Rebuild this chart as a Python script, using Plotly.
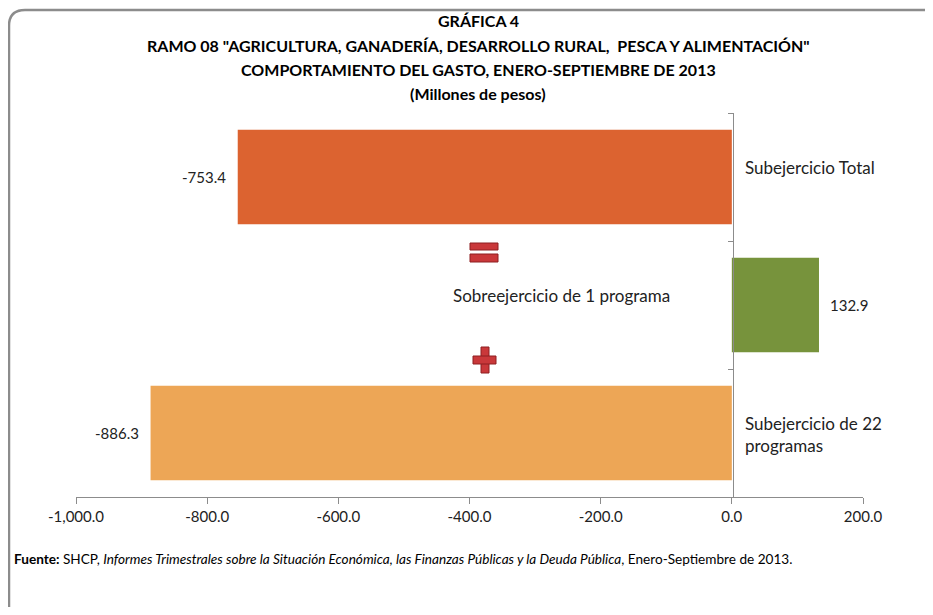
import plotly.graph_objects as go

# ---- data ----
categories = ["Subejercicio Total", "Sobreejercicio de 1 programa", "Subejercicio de 22 programas"]
category_labels = ["Subejercicio Total", "Sobreejercicio de 1 programa", "Subejercicio de 22<br>programas"]
values = [-753.4, 132.9, -886.3]
value_labels = ["-753.4", "132.9", "-886.3"]
bar_colors = ["#DC6330", "#77933C", "#EDA656"]
x_ticks = [-1000, -800, -600, -400, -200, 0, 200]
x_tick_labels = ["-1,000.0", "-800.0", "-600.0", "-400.0", "-200.0", "0.0", "200.0"]

title_lines = [
    "GRÁFICA 4",
    'RAMO 08 "AGRICULTURA, GANADERÍA, DESARROLLO RURAL,  PESCA Y ALIMENTACIÓN"',
    "COMPORTAMIENTO DEL GASTO, ENERO-SEPTIEMBRE DE 2013",
    "(Millones de pesos)",
]
footer = ("<b>Fuente:</b> SHCP, <i>Informes Trimestrales sobre la Situación Económica, "
          "las Finanzas Públicas y la Deuda Pública</i>, Enero-Septiembre de 2013.")

# page body has an 8px margin -> figure is drawn 8px in from the window edges
OFF = 8
W, H = 933 - 2 * OFF, 615 - 2 * OFF
L, R, T, B = 76 - OFF, 933 - 863 - OFF, 113 - OFF, 615 - 497 - OFF
PW, PH = W - L - R, H - T - B
FONT = "Lato, Carlito, Calibri, Roboto, sans-serif"


def px(x):  # reference window pixel -> paper
    return (x - OFF - L) / PW


def py(y):
    return (H - B - (y - OFF)) / PH


fig = go.Figure()
fig.add_trace(go.Bar(
    x=values, y=categories, orientation="h",
    marker=dict(color=bar_colors, line=dict(width=0)),
    width=0.74, hoverinfo="x+y",
))

annotations = []
# data labels
for v, c, t in zip(values, categories, value_labels):
    annotations.append(dict(x=v, y=c, xref="x", yref="y", text=t, showarrow=False,
                            xanchor="right" if v < 0 else "left", xshift=-10 if v < 0 else 9,
                            font=dict(size=15, color="#222", family=FONT)))
# category labels
annotations.append(dict(x=0, y=categories[0], xref="x", yref="y", text=category_labels[0],
                        showarrow=False, xanchor="left", xshift=11, yshift=10,
                        font=dict(size=17, color="#222", family=FONT)))
annotations.append(dict(x=0, y=categories[1], xref="x", yref="y", text=category_labels[1],
                        showarrow=False, xanchor="right", xshift=-60, yshift=10,
                        font=dict(size=17, color="#222", family=FONT)))
annotations.append(dict(x=0, y=categories[2], xref="x", yref="y", text=category_labels[2],
                        showarrow=False, xanchor="left", xshift=11, yshift=-1, align="left",
                        font=dict(size=17, color="#222", family=FONT)))
# title lines
for line, ypix in zip(title_lines, [20, 45, 70, 94]):
    annotations.append(dict(x=px(478), y=py(ypix), xref="paper", yref="paper", text=f"<b>{line}</b>",
                            showarrow=False, xanchor="center", yanchor="middle",
                            font=dict(size=16, color="#000", family=FONT)))
# footer
annotations.append(dict(x=px(12), y=py(559), xref="paper", yref="paper", text=footer,
                        showarrow=False, xanchor="left", yanchor="middle",
                        font=dict(size=13.6, color="#000", family=FONT)))

# frame with rounded corners (right and bottom sides are outside the view)
r = 16
x0, y0, y1, x1 = 9, 10, 640, 960
frame = (f"M {px(x1)},{py(y0)} L {px(x0 + r)},{py(y0)} Q {px(x0)},{py(y0)} {px(x0)},{py(y0 + r)} "
         f"L {px(x0)},{py(y1)}")
shapes = [dict(type="path", path=frame, xref="paper", yref="paper",
               line=dict(color="#8C8C8C", width=2.5), layer="below")]

# "=" and "+" icons
red = "#C9383A"
edge = "#8E1F20"


def rect(xa, ya, xb, yb):
    return dict(type="rect", xref="paper", yref="paper", x0=px(xa), x1=px(xb), y0=py(ya), y1=py(yb),
                fillcolor=red, line=dict(color=edge, width=1), layer="above")


shapes += [rect(470, 243, 498, 250), rect(470, 254, 498, 262)]
shapes += [rect(481, 347, 489, 373), rect(473, 356, 496, 364)]

fig.update_layout(
    width=W, height=H,
    margin=dict(l=L, r=R, t=T, b=B),
    paper_bgcolor="white", plot_bgcolor="white",
    showlegend=False,
    annotations=annotations,
    shapes=shapes,
    font=dict(family=FONT, color="#222"),
    xaxis=dict(range=[-1000, 200], tickvals=x_ticks, ticktext=x_tick_labels,
               showgrid=False, zeroline=False, showline=True, linecolor="#8C8C8C", linewidth=1,
               ticks="outside", ticklen=6, tickcolor="#8C8C8C", tickfont=dict(size=15, color="#222"),
               fixedrange=True),
    yaxis=dict(categoryorder="array", categoryarray=categories, autorange="reversed",
               anchor="free", position=px(733), showticklabels=False, showgrid=False,
               zeroline=False, showline=True, linecolor="#8C8C8C", linewidth=1,
               ticks="outside", ticklen=5, tickcolor="#8C8C8C", tickson="boundaries",
               fixedrange=True),
)

fig.write_html("out.html")
